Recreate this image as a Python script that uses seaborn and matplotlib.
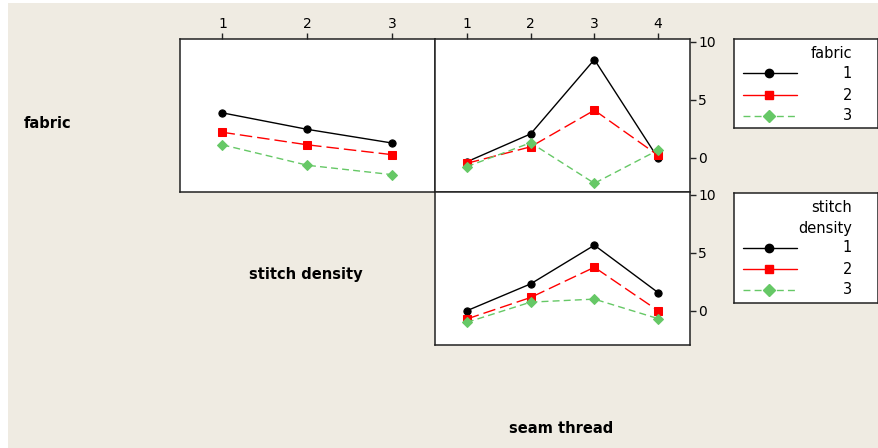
import matplotlib
matplotlib.use("Agg")
import matplotlib.pyplot as plt
from matplotlib.patches import Rectangle
from matplotlib.lines import Line2D
import pandas as pd
import seaborn as sns

# Interaction means
stitch_levels = [1, 2, 3]
seam_levels = [1, 2, 3, 4]
level_names = ["1", "2", "3"]

# fabric x stitch density
fabric1_by_stitch = [3.86, 2.44, 1.26]
fabric2_by_stitch = [2.19, 1.11, 0.26]
fabric3_by_stitch = [1.11, -0.65, -1.46]

# fabric x seam thread
fabric1_by_seam = [-0.35, 2.05, 8.45, -0.05]
fabric2_by_seam = [-0.48, 0.94, 4.09, 0.20]
fabric3_by_seam = [-0.77, 1.29, -2.20, 0.66]

# stitch density x seam thread
stitch1_by_seam = [0.00, 2.31, 5.64, 1.56]
stitch2_by_seam = [-0.71, 1.14, 3.74, 0.00]
stitch3_by_seam = [-1.00, 0.74, 1.00, -0.68]

y_ticks = [0, 5, 10]

sns.set_theme(style="white")
plt.rcParams["font.family"] = ["DejaVu Sans"]

W, H = 879, 448
fig = plt.figure(figsize=(W / 100, H / 100), dpi=100)
fig.patch.set_facecolor("white")
BG = "#EFEBE2"
fig.add_artist(Rectangle((8 / W, 0), 1 - 8 / W + 0.01, 1 - 3 / H, transform=fig.transFigure,
                         facecolor=BG, edgecolor="none", zorder=-10))

palette = {"1": "black", "2": "#FF0000", "3": "#66C866"}
markers = {"1": "o", "2": "s", "3": "D"}
dashes = {"1": "", "2": (9, 3.6), "3": (5, 3)}
legend_dashes = {"1": "-", "2": "-", "3": (0, (5, 3))}
msize = {"1": 5.2, "2": 5.2, "3": 5.0}


def frame(x, series):
    rows = []
    for name, vals in zip(level_names, series):
        for xi, v in zip(x, vals):
            rows.append({"x": xi, "y": v, "level": name})
    return pd.DataFrame(rows)


def px_axes(x0, y0, x1, y1):
    return fig.add_axes([x0 / W, 1 - y1 / H, (x1 - x0) / W, (y1 - y0) / H])


def draw_panel(ax, x, series, xlim):
    df = frame(x, series)
    sns.lineplot(data=df, x="x", y="y", hue="level", style="level",
                 palette=palette, markers=markers, dashes=dashes,
                 linewidth=1.0, legend=False, ax=ax, sort=True)
    for line, name in zip(ax.lines, level_names):
        c = palette[name]
        line.set_markeredgecolor(c)
        line.set_markerfacecolor(c)
        line.set_markersize(msize[name])
    ax.set_xlim(*xlim)
    ax.set_ylim(-2.95, 10.22)
    ax.set_xlabel("")
    ax.set_ylabel("")
    ax.set_facecolor("white")
    for s in ax.spines.values():
        s.set_color("#222222")
        s.set_linewidth(1.1)


tick_kw = dict(direction="out", length=4, width=1.0, color="#222222",
               labelsize=10, labelcolor="black", pad=2)

# fabric x stitch density
axA = px_axes(180, 39, 435, 192)
draw_panel(axA, stitch_levels, [fabric1_by_stitch, fabric2_by_stitch, fabric3_by_stitch], (0.5, 3.5))
axA.set_xticks(stitch_levels)
axA.set_xticklabels([str(v) for v in stitch_levels])
axA.tick_params(axis="x", top=True, labeltop=True, bottom=False, labelbottom=False, **tick_kw)
axA.set_yticks([])

# fabric x seam thread
axB = px_axes(435, 39, 690, 192)
draw_panel(axB, seam_levels, [fabric1_by_seam, fabric2_by_seam, fabric3_by_seam], (0.5, 4.5))
axB.set_xticks(seam_levels)
axB.set_xticklabels([str(v) for v in seam_levels])
axB.tick_params(axis="x", top=True, labeltop=True, bottom=False, labelbottom=False, **tick_kw)
axB.set_yticks(y_ticks)
axB.set_yticklabels([str(v) for v in y_ticks])
axB.tick_params(axis="y", right=True, labelright=True, left=False, labelleft=False, **tick_kw)

# stitch density x seam thread
axC = px_axes(435, 192, 690, 345)
draw_panel(axC, seam_levels, [stitch1_by_seam, stitch2_by_seam, stitch3_by_seam], (0.5, 4.5))
axC.set_xticks([])
axC.set_yticks(y_ticks)
axC.set_yticklabels([str(v) for v in y_ticks])
axC.tick_params(axis="y", right=True, labelright=True, left=False, labelleft=False, **tick_kw)

# factor labels
lab_kw = dict(fontsize=10.5, fontweight="bold", color="black", va="center")
fig.text(24 / W, 1 - 123 / H, "fabric", ha="left", **lab_kw)
fig.text(306 / W, 1 - 275 / H, "stitch density", ha="center", **lab_kw)
fig.text(561 / W, 1 - 428 / H, "seam thread", ha="center", **lab_kw)


def legend_box(x0, y0, x1, y1, title_lines, entry_rows):
    ax = px_axes(x0, y0, x1, y1)
    w, h = x1 - x0, y1 - y0
    ax.set_xlim(0, w)
    ax.set_ylim(h, 0)
    ax.set_xticks([])
    ax.set_yticks([])
    ax.set_facecolor("white")
    for s in ax.spines.values():
        s.set_color("#222222")
        s.set_linewidth(1.1)
    for text, ty in title_lines:
        ax.text(118, ty, text, ha="right", va="center", fontsize=10.5, color="black")
    for name, ty in zip(level_names, entry_rows):
        ax.add_line(Line2D([9, 63], [ty, ty], color=palette[name], linewidth=1.0,
                           linestyle=legend_dashes[name]))
        ax.add_line(Line2D([35], [ty], color=palette[name], marker=markers[name],
                           markersize=msize[name] + 0.8, markeredgecolor=palette[name],
                           linestyle="none"))
        ax.text(118, ty, name, ha="right", va="center", fontsize=10.5, color="black")


legend_box(734, 39, 878, 128, [("fabric", 14)], [34, 56, 77])
legend_box(734, 193, 878, 303, [("stitch", 14), ("density", 35)], [55, 76, 97])

fig.savefig("out.png", dpi=100, facecolor=fig.get_facecolor())
